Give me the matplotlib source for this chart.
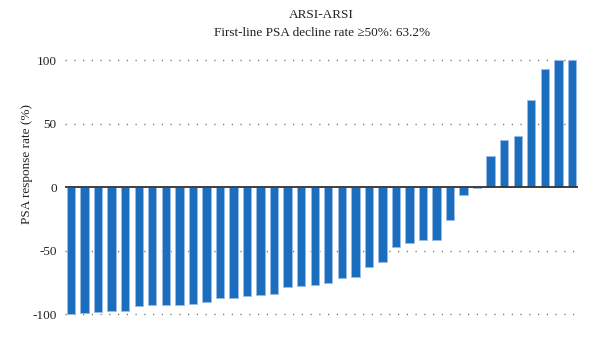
import matplotlib
matplotlib.use("Agg")
import matplotlib.pyplot as plt
import numpy as np

# PSA response per patient, sorted (waterfall)
patients = list(range(1, 39))
psa_change = [-100, -99, -98.7, -98, -97.8, -94, -93.3, -93, -93, -92.2,
              -90.4, -87.6, -87.5, -86.2, -85.3, -84.6, -78.5, -77.6, -76.8, -75.5,
              -71.4, -70.8, -63, -59.3, -47.5, -44.3, -42, -41.8, -26.3, -6,
              -1, 24.3, 36.8, 40, 68.8, 92.6, 100, 100]
y_ticks = [100, 50, 0, -50, -100]
y_tick_labels = ["100", "50", "0", "-50", "-100"]
title_lines = ["ARSI-ARSI", "First-line PSA decline rate \u226550%: 63.2%"]
y_label = "PSA response rate (%)"

plt.rcParams['font.family'] = ['Liberation Serif', 'DejaVu Serif']

fig = plt.figure(figsize=(6.0, 3.39), dpi=100)
ax = fig.add_axes([0.1083, 0.055, 0.855, 0.7867])

x = np.arange(len(psa_change))
ax.bar(x, psa_change, width=0.62, color='#1b6ebe', edgecolor='#9dbbe6',
       linewidth=0.6, zorder=3)

# dotted reference lines
for yv in y_ticks:
    if yv != 0:
        ax.axhline(yv, color='#777777', linestyle=(0, (0.9, 5.4)), linewidth=1.0, zorder=1)
ax.axhline(0, color='#333333', linewidth=1.3, zorder=4)

ax.set_xlim(-0.45, len(psa_change) - 0.55)
ax.set_ylim(-105, 105)
ax.set_yticks(y_ticks)
ax.set_yticklabels(y_tick_labels, fontsize=9.5, color='#222222')
ax.set_xticks([])
ax.tick_params(axis='y', length=0, pad=6)
for s in ax.spines.values():
    s.set_visible(False)

ax.set_ylabel(y_label, fontsize=9.5, color='#222222')
ax.yaxis.set_label_coords(-0.062, 0.586)
fig.text(0.536, 0.955, title_lines[0], ha='center', va='center', fontsize=9.5, color='#222222')
fig.text(0.536, 0.902, title_lines[1], ha='center', va='center', fontsize=9.5, color='#222222')

fig.savefig("out.png", dpi=100)
